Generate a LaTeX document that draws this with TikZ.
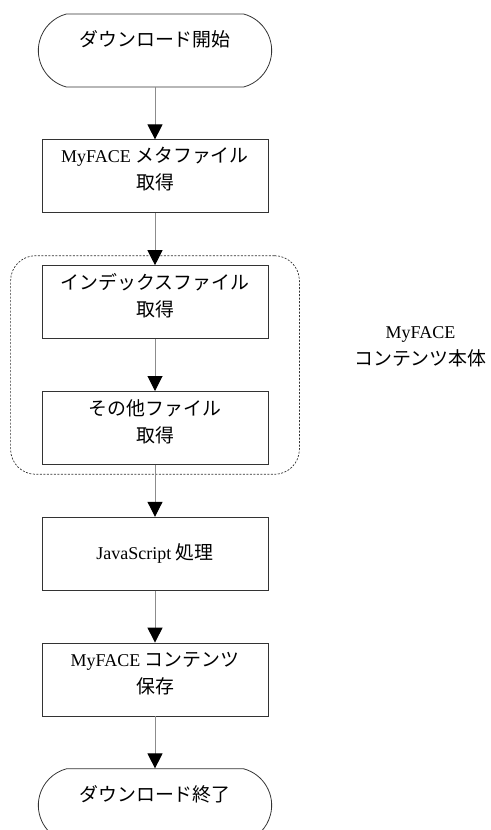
\documentclass[tikz,border=0pt]{standalone}
\usepackage{fontspec}
\setmainfont{Liberation Serif}
\newfontfamily\jpfont[Scale=1.05]{Noto Sans CJK JP}
\newcommand{\jp}[1]{{\jpfont #1}}
\usetikzlibrary{arrows.meta,fit,positioning,shapes.misc}

\begin{document}
\begin{tikzpicture}
	\tikzstyle{term}=[rounded rectangle, rounded rectangle arc length=150, minimum width=240pt, minimum height=73pt, draw=black!80, line width=0.8pt, node distance=52pt]
	\tikzstyle{proc}=[rectangle, minimum width=226pt, minimum height=73pt, draw=black!80, line width=0.8pt, node distance=52pt]
	\tikzstyle{txt}=[font=\fontsize{18}{27}\selectfont, align=center]
	\tikzstyle{connect}=[-{Triangle[width=15pt,length=15pt,color=black]}, line width=1pt, black!45]
	\useasboundingbox (0,0) rectangle (490pt,-830pt);
	\clip (0,0) rectangle (490pt,-830pt);
	\node[term] (start) at (155pt,-50.5pt) [label={[txt,yshift=11pt]center:\jp{ダウンロード開始}}] { };
	\node[proc] (meta) [below=of start,label={[txt,yshift=7pt]center:{MyFACE \jp{メタファイル}\\\jp{取得}}}] { };
	\node[proc] (idx) [below=of meta,label={[txt,yshift=6pt]center:{\jp{インデックスファイル}\\\jp{取得}}}] { };
	\node[proc] (other) [below=of idx,label={[txt,yshift=6pt]center:{\jp{その他ファイル}\\\jp{取得}}}] { };
	\node[proc] (js) [below=of other,label={[txt]center:{JavaScript \jp{処理}}}] { };
	\node[proc] (save) [below=of js,label={[txt,yshift=6pt]center:{MyFACE \jp{コンテンツ}\\\jp{保存}}}] { };
	\node[term] (end) [below=of save,label={[txt,yshift=11pt]center:\jp{ダウンロード終了}}] { };
	% contents group
	\node[rectangle, rounded corners=25pt, draw=black!80, line width=0.7pt, dash pattern=on 2pt off 1.5pt, inner xsep=31pt, inner ysep=9.5pt, fit=(idx)(other)] (group) {};
	\node[txt] (grouplbl) [right=51pt of group.east, yshift=18.5pt] {MyFACE\\\jp{コンテンツ本体}};
	\path (start) edge [connect] (meta)
	(meta) edge [connect] (idx)
	(idx) edge [connect] (other)
	(other) edge [connect] (js)
	(js) edge [connect] (save)
	(save) edge [connect] (end);
\end{tikzpicture}
\end{document}
